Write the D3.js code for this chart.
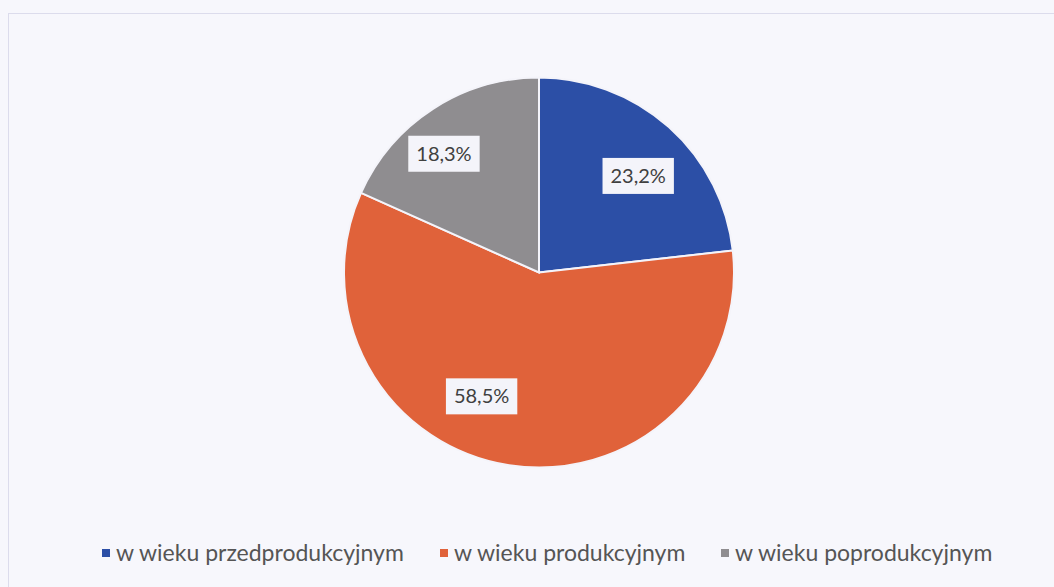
<!DOCTYPE html>
<html>
<head>
<meta charset="utf-8">
<script src="https://cdn.jsdelivr.net/npm/d3@7"></script>
<style>
  html, body { margin: 0; padding: 0; background: #f7f7fc; }
  svg { display: block; }
</style>
</head>
<body>
<svg id="chart" width="1054" height="587"></svg>
<script>
const categories = ["w wieku przedprodukcyjnym", "w wieku produkcyjnym", "w wieku poprodukcyjnym"];
const values = [23.2, 58.5, 18.3];
const labels = ["23,2%", "58,5%", "18,3%"];
const colors = ["#2c4fa6", "#e0623a", "#8f8d90"];

const W = 1054, H = 587;
const svg = d3.select("#chart");
const font = "Lato, 'Open Sans', 'Liberation Sans', sans-serif";

// chart frame
svg.append("rect").attr("x", 8.5).attr("y", 13.5).attr("width", 1060).attr("height", 600)
  .attr("fill", "#f7f7fc").attr("stroke", "#dcdcec").attr("stroke-width", 1);

const cx = 539, cy = 272.5, R = 195;
const g = svg.append("g").attr("transform", `translate(${cx},${cy})`);

const pie = d3.pie().sort(null).value(d => d);
const arcs = pie(values);
const arc = d3.arc().innerRadius(0).outerRadius(R);

g.selectAll("path").data(arcs).join("path")
  .attr("d", arc)
  .attr("fill", (d, i) => colors[i])
  .attr("stroke", "#f4f4fa").attr("stroke-width", 2);

// label placement (layout: radius fraction and angle nudge per slice)
const labelRadius = [0.71, 0.70, 0.78];
const labelNudge = [0.07, 0.28, -0.10];
arcs.forEach((d, i) => {
  const a = (d.startAngle + d.endAngle) / 2 + labelNudge[i];
  const r = R * labelRadius[i];
  const x = Math.sin(a) * r, y = -Math.cos(a) * r;
  const lg = g.append("g").attr("transform", `translate(${x},${y})`);
  const t = lg.append("text").text(labels[i])
    .attr("text-anchor", "middle").attr("dy", "0.35em")
    .attr("font-family", font).attr("font-size", 20)
    .attr("fill", "#404040");
  const bb = t.node().getBBox();
  lg.insert("rect", "text")
    .attr("x", bb.x - 8).attr("y", -18).attr("width", bb.width + 16).attr("height", 36)
    .attr("fill", "#f4f4fa");
});

// legend
const legendX = [102, 440, 721];
const leg = svg.append("g");
categories.forEach((c, i) => {
  const lg = leg.append("g").attr("transform", `translate(${legendX[i]},553)`);
  lg.append("rect").attr("x", 0).attr("y", -4).attr("width", 8).attr("height", 8).attr("fill", colors[i]);
  lg.append("text").text(c).attr("x", 14).attr("dy", "0.35em")
    .attr("font-family", font).attr("font-size", 23).attr("fill", "#555");
});
</script>
</body>
</html>
